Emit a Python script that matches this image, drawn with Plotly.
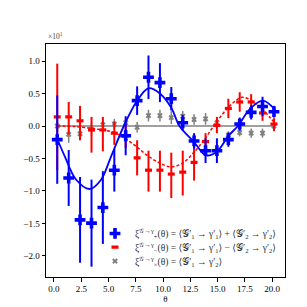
import plotly.graph_objects as go

theta = [0.30, 1.35, 2.39, 3.44, 4.48, 5.53, 6.57, 7.62, 8.66, 9.71,
         10.75, 11.80, 12.84, 13.89, 14.93, 15.98, 17.02, 18.07, 19.11, 20.16]

xi_plus = [-0.21, -0.80, -1.445, -1.495, -1.255, -0.68, -0.15, 0.39, 0.75, 0.667,
           0.42, 0.05, -0.23, -0.38, -0.38, -0.21, 0.03, 0.21, 0.30, 0.22]
xi_plus_err = [0.68, 0.43, 0.66, 0.67, 0.56, 0.33, 0.30, 0.22, 0.335, 0.30,
               0.18, 0.12, 0.12, 0.19, 0.19, 0.11, 0.10, 0.11, 0.15, 0.09]

xi_minus = [0.14, 0.14, 0.08, -0.06, -0.06, -0.11, -0.15, -0.49, -0.68, -0.68,
            -0.74, -0.71, -0.56, -0.24, 0.01, 0.27, 0.37, 0.37, 0.20, 0.03]
xi_minus_err_up = [0.82, 0.23, 0.23, 0.20, 0.20, 0.18, 0.19, 0.27, 0.30, 0.30,
                   0.33, 0.33, 0.30, 0.13, 0.13, 0.15, 0.15, 0.12, 0.12, 0.09]
xi_minus_err_dn = [0.82, 0.27, 0.30, 0.35, 0.33, 0.18, 0.19, 0.27, 0.33, 0.33,
                   0.37, 0.36, 0.28, 0.12, 0.12, 0.15, 0.15, 0.13, 0.12, 0.11]

xi_cross = [0.00, -0.13, -0.12, -0.05, 0.02, 0.03, 0.05, -0.02, 0.16, 0.16,
            0.13, 0.15, 0.10, 0.11, 0.05, -0.14, -0.10, -0.11, -0.11, 0.00]
xi_cross_err = [0.15, 0.13, 0.10, 0.10, 0.08, 0.08, 0.09, 0.08, 0.09, 0.09,
                0.10, 0.08, 0.08, 0.09, 0.08, 0.06, 0.06, 0.07, 0.07, 0.06]

# model curves
model_plus_x = [0.30, 1.0, 2.0, 3.25, 4.3, 5.23, 6.4, 7.55, 8.65, 9.7,
                10.75, 11.5, 12.85, 13.9, 14.9, 16.0, 16.85, 18.0, 19.15, 20.25]
model_plus_y = [-0.20, -0.47, -0.82, -0.97, -0.83, -0.47, 0.0, 0.37, 0.58, 0.50,
                0.28, 0.0, -0.25, -0.45, -0.40, -0.15, 0.0, 0.27, 0.39, 0.25]
model_minus_x = [0.30, 2.0, 4.0, 5.5, 6.5, 7.5, 8.6, 9.7, 10.7, 11.8,
                 12.85, 13.9, 14.9, 16.0, 17.0, 17.4, 18.1, 19.2, 20.25]
model_minus_y = [0.0, -0.01, -0.05, -0.10, -0.19, -0.31, -0.46, -0.57, -0.63, -0.57,
                 -0.40, -0.18, 0.065, 0.29, 0.43, 0.44, 0.39, 0.24, 0.04]
model_cross_x = [0.30, 20.25]
model_cross_y = [0.0, 0.0]

x_ticks = [0.0, 2.5, 5.0, 7.5, 10.0, 12.5, 15.0, 17.5, 20.0]
y_ticks = [-2.0, -1.5, -1.0, -0.5, 0.0, 0.5, 1.0]

labels = [
    "ξ<sup>𝒢→γ</sup><sub>+</sub>(θ) = ⟨𝒢′<sub>1</sub> → γ′<sub>1</sub>⟩ + ⟨𝒢′<sub>2</sub> → γ′<sub>2</sub>⟩",
    "ξ<sup>𝒢→γ</sup><sub>−</sub>(θ) = ⟨𝒢′<sub>1</sub> → γ′<sub>1</sub>⟩ − ⟨𝒢′<sub>2</sub> → γ′<sub>2</sub>⟩",
    "ξ<sup>𝒢→γ</sup><sub>×</sub>(θ) = ⟨𝒢′<sub>1</sub> → γ′<sub>2</sub>⟩",
]

FONT = "Liberation Serif, DejaVu Serif, serif"
BLUE = "#0000ff"
RED = "#ff0000"
GREY = "#808080"

fig = go.Figure()

fig.add_trace(go.Scatter(x=model_cross_x, y=model_cross_y, mode="lines",
                         line=dict(color=GREY, width=1.5), showlegend=False, hoverinfo="skip"))
fig.add_trace(go.Scatter(
    x=theta, y=xi_cross, mode="markers", name=labels[2], legend="legend3",
    marker=dict(symbol="x", size=5, color=GREY, line=dict(width=0)),
    error_y=dict(type="data", array=xi_cross_err, color=GREY, thickness=1.5, width=0)))
fig.add_trace(go.Scatter(x=model_minus_x, y=model_minus_y, mode="lines", line_shape="spline",
                         line=dict(color=RED, width=1.5, dash="3px,2px"),
                         showlegend=False, hoverinfo="skip"))
fig.add_trace(go.Scatter(
    x=theta, y=xi_minus, mode="markers", name=labels[1], legend="legend2",
    marker=dict(symbol="line-ew", size=5, color=RED, line=dict(color=RED, width=3.2)),
    error_y=dict(type="data", array=xi_minus_err_up, arrayminus=xi_minus_err_dn,
                 color=RED, thickness=2, width=0)))
fig.add_trace(go.Scatter(x=model_plus_x, y=model_plus_y, mode="lines", line_shape="spline",
                         line=dict(color=BLUE, width=1.8), showlegend=False, hoverinfo="skip"))
fig.add_trace(go.Scatter(
    x=theta, y=xi_plus, mode="markers", name=labels[0], legend="legend",
    marker=dict(symbol="cross", size=9, color=BLUE, line=dict(width=0)),
    error_y=dict(type="data", array=xi_plus_err, color=BLUE, thickness=2, width=0)))

axis_common = dict(showgrid=False, zeroline=False, showline=True, linecolor="black",
                   linewidth=1, mirror=True, ticks="outside", ticklen=3.5, tickwidth=0.8,
                   tickcolor="black", tickfont=dict(family=FONT, size=9, color="black"))

fig.update_xaxes(range=[-0.73, 21.17], tickvals=x_ticks,
                 ticktext=[f"{v:.1f}" for v in x_ticks],
                 title=dict(text="θ", font=dict(family=FONT, size=9, color="black"), standoff=2),
                 **axis_common)
fig.update_yaxes(range=[-2.324, 1.262], tickvals=y_ticks,
                 ticktext=[f"{v:.1f}".replace("-", "−") for v in y_ticks],
                 **axis_common)

fig.add_annotation(text="×10<sup>1</sup>", xref="paper", yref="paper", x=0, y=1,
                   xanchor="left", yanchor="bottom", showarrow=False, yshift=1,
                   font=dict(family=FONT, size=7.5, color="#444"))

leg_common = dict(x=0.205, xanchor="left", yanchor="middle",
                  bgcolor="rgba(0,0,0,0)", borderwidth=0,
                  font=dict(family=FONT, size=9.5, color="#333"), itemwidth=30)

fig.update_layout(
    width=307, height=307,
    margin=dict(l=38, r=30, t=36, b=34, pad=0),
    paper_bgcolor="white", plot_bgcolor="white",
    font=dict(family=FONT, size=8, color="#333"),
    legend=dict(y=0.187, **leg_common),
    legend2=dict(y=0.128, **leg_common),
    legend3=dict(y=0.068, **leg_common),
)

fig.write_html("out.html")
